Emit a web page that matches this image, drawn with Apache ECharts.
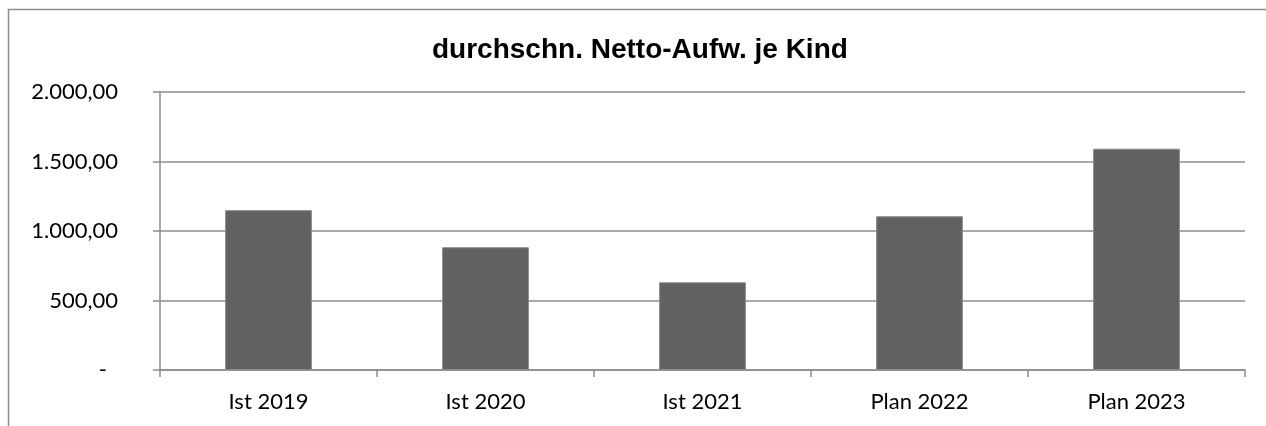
<!DOCTYPE html>
<html>
<head>
<meta charset="utf-8">
<script src="https://cdn.jsdelivr.net/npm/echarts@6/dist/echarts.min.js"></script>
<style>
  html, body { margin: 0; padding: 0; background: #fff; }
  #container { width: 1266px; height: 426px; }
</style>
</head>
<body>
<div id="container"></div>
<script>
const categories = ["Ist 2019", "Ist 2020", "Ist 2021", "Plan 2022", "Plan 2023"];
const nettoAufwand = [1150, 883, 631, 1106, 1592];
const yTicks = [0, 500, 1000, 1500, 2000];

function formatDe(v) {
  if (v == 0) return "{dash|-}";
  const parts = v.toFixed(2).split(".");
  const intPart = parts[0].replace(/\B(?=(\d{3})+(?!\d))/g, ".");
  return intPart + "," + parts[1];
}

const chart = echarts.init(document.getElementById("container"));

const gridColor = "#8c8c8c";

const option = {
  animation: false,
  backgroundColor: "#ffffff",
  title: {
    text: "durchschn. Netto-Aufw. je Kind",
    left: 432,
    top: 36,
    padding: 0,
    textStyle: {
      fontFamily: "Liberation Sans",
      fontWeight: "bold",
      fontSize: 28,
      color: "#000",
    },
  },
  graphic: [
    {
      type: "rect",
      shape: { x: 8.5, y: 9.5, width: 1400, height: 600 },
      style: { fill: "none", stroke: gridColor, lineWidth: 1.5 },
      silent: true,
    },
  ],
  grid: {
    left: 160,
    right: 21,
    top: 92,
    bottom: 56,
  },
  xAxis: {
    type: "category",
    data: categories,
    axisLine: { show: true, lineStyle: { color: gridColor, width: 1.5 } },
    axisTick: { show: true, length: 7, lineStyle: { color: gridColor, width: 1.5 } },
    axisLabel: {
      margin: 21,
      fontFamily: "Lato",
      fontSize: 22,
      color: "#000",
    },
  },
  yAxis: {
    type: "value",
    min: yTicks[0],
    max: yTicks[yTicks.length - 1],
    interval: 500,
    axisLine: { show: true, lineStyle: { color: gridColor, width: 1.5 } },
    axisTick: { show: true, length: 7, lineStyle: { color: gridColor, width: 1.5 } },
    splitLine: { show: true, lineStyle: { color: gridColor, width: 1.5 } },
    axisLabel: {
      margin: 42,
      fontFamily: "Lato",
      fontSize: 22,
      color: "#000",
      formatter: formatDe,
      rich: {
        dash: {
          fontFamily: "Lato",
          fontSize: 22,
          color: "#000",
          padding: [0, 11, 0, 0],
        },
      },
    },
  },
  series: [
    {
      name: "Netto-Aufwand je Kind",
      type: "bar",
      data: nettoAufwand,
      barWidth: "40%",
      itemStyle: {
        color: "#616161",
        borderColor: "#8a8a8a",
        borderWidth: 1,
      },
    },
  ],
};

chart.setOption(option);
</script>
</body>
</html>
